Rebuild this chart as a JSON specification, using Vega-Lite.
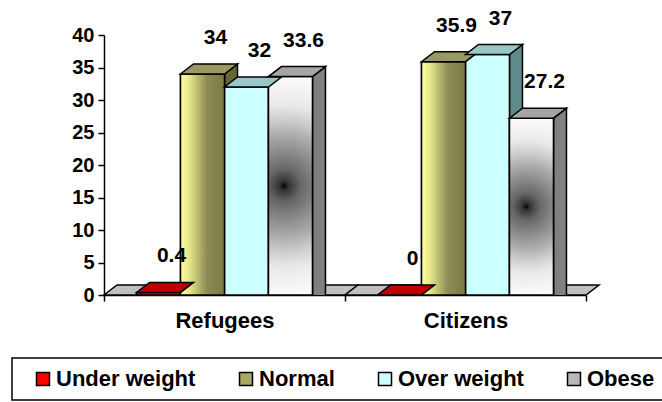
{
  "$schema": "https://vega.github.io/schema/vega-lite/v6.json",
  "autosize": {"type": "none"},
  "padding": {"left": 104, "top": 35, "right": 76, "bottom": 107},
  "width": 482,
  "height": 260,
  "background": "white",
  "config": {
    "font": "Liberation Sans",
    "view": {"stroke": null},
    "axis": {"grid": false, "domainColor": "black", "domainWidth": 1.5, "tickColor": "black", "tickWidth": 1.5, "tickSize": 6, "labelColor": "black", "labelFontWeight": "bold", "titleFontWeight": "bold"},
    "legend": {"strokeColor": "black", "strokeWidth": 1.5}
  },
  "datasets": {
    "groups": [{"group": "Refugees"}, {"group": "Citizens"}],
    "bmi": [
      {"group": "Refugees", "class": "Under weight", "value": 0.4},
      {"group": "Refugees", "class": "Normal", "value": 34},
      {"group": "Refugees", "class": "Over weight", "value": 32},
      {"group": "Refugees", "class": "Obese", "value": 33.6},
      {"group": "Citizens", "class": "Under weight", "value": 0},
      {"group": "Citizens", "class": "Normal", "value": 35.9},
      {"group": "Citizens", "class": "Over weight", "value": 37},
      {"group": "Citizens", "class": "Obese", "value": 27.2}
    ]
  },
  "layer": [
    {
      "data": {"name": "groups"},
      "mark": {"type": "point", "filled": true, "opacity": 1, "size": 4, "shape": "M-120.5,0 L120.5,0 L133.5,-10 L-107.5,-10 Z", "fill": "#C0C0C0", "stroke": "black", "strokeWidth": 1.5},
      "encoding": {
        "x": {
          "field": "group", "type": "nominal", "sort": ["Refugees", "Citizens"],
          "scale": {"paddingInner": 0, "paddingOuter": 0},
          "axis": {"title": null, "labelAngle": 0, "labelFontSize": 22, "labelPadding": 9, "tickBand": "extent"}
        },
        "y": {
          "datum": 0, "type": "quantitative",
          "scale": {"domain": [0, 40], "nice": false},
          "axis": {"title": null, "values": [0, 5, 10, 15, 20, 25, 30, 35, 40], "labelFontSize": 20, "labelPadding": 4}
        }
      }
    },
    {
      "data": {"name": "bmi"},
      "encoding": {
        "x": {
          "field": "group", "type": "nominal", "sort": ["Refugees", "Citizens"],
          "scale": {"paddingInner": 0, "paddingOuter": 0},
          "axis": {"title": null, "labelAngle": 0, "labelFontSize": 22, "labelPadding": 9, "tickBand": "extent"}
        },
        "y": {
          "field": "value", "type": "quantitative",
          "scale": {"domain": [0, 40], "nice": false},
          "axis": {"title": null, "values": [0, 5, 10, 15, 20, 25, 30, 35, 40], "labelFontSize": 20, "labelPadding": 4}
        },
        "xOffset": {"field": "class", "type": "nominal", "sort": ["Under weight", "Normal", "Over weight", "Obese"], "scale": {"paddingInner": 0, "paddingOuter": 0.74}}
      },
      "layer": [
        {
          "mark": {"type": "point", "filled": true, "opacity": 1, "size": 4, "clip": true, "shape": "M22,0 L35,-10 L35,300 L22,300 Z", "stroke": "black", "strokeWidth": 1.5},
          "encoding": {
            "color": {"field": "class", "type": "nominal", "sort": ["Under weight", "Normal", "Over weight", "Obese"], "scale": {"range": ["#800000", "#666633", "#5F8A8A", "#808080"]}, "legend": null}
          }
        },
        {
          "mark": {"type": "bar", "stroke": "black", "strokeWidth": 1.5},
          "encoding": {
            "color": {
              "field": "class", "type": "nominal", "sort": ["Under weight", "Normal", "Over weight", "Obese"],
              "scale": {"range": ["#FF0000", "#A8A860", "#CCFFFF", "#B8B8B8"]},
              "legend": {
                "title": null, "orient": "none", "legendX": -92, "legendY": 323, "direction": "horizontal", "columns": 4,
                "columnPadding": 29, "padding": 10, "symbolOffset": 10,
                "symbolType": "square", "symbolSize": 169, "symbolStrokeColor": "black", "symbolStrokeWidth": 1.5, "symbolOpacity": 1,
                "labelFontSize": 22, "labelFontWeight": "bold", "labelColor": "black", "labelOffset": 2, "labelLimit": 0
              }
            }
          }
        },
        {
          "transform": [{"filter": "datum.class === 'Normal'"}],
          "mark": {
            "type": "bar", "stroke": "black", "strokeWidth": 1.5,
            "fill": {"gradient": "linear", "x1": 0, "y1": 0, "x2": 1, "y2": 0, "stops": [
              {"offset": 0, "color": "#FFFF99"},
              {"offset": 0.2, "color": "#E6E68A"},
              {"offset": 0.6, "color": "#8C8C55"},
              {"offset": 1, "color": "#7A7A48"}
            ]}
          }
        },
        {
          "transform": [{"filter": "datum.class === 'Obese'"}],
          "mark": {
            "type": "bar", "stroke": "black", "strokeWidth": 1.5,
            "fill": {"gradient": "radial", "x1": 0.47, "y1": 0.5, "r1": 0, "x2": 0.47, "y2": 0.5, "r2": 0.5, "stops": [
              {"offset": 0, "color": "#000000"},
              {"offset": 0.04, "color": "#333333"},
              {"offset": 0.15, "color": "#666666"},
              {"offset": 0.3, "color": "#888888"},
              {"offset": 0.45, "color": "#A8A8A8"},
              {"offset": 0.6, "color": "#CCCCCC"},
              {"offset": 0.75, "color": "#EAEAEA"},
              {"offset": 1, "color": "#FAFAFA"}
            ]}
          }
        },
        {
          "mark": {"type": "point", "filled": true, "opacity": 1, "size": 4, "shape": "M-22,0 L22,0 L35,-10 L-9,-10 Z", "stroke": "black", "strokeWidth": 1.5},
          "encoding": {
            "color": {"field": "class", "type": "nominal", "sort": ["Under weight", "Normal", "Over weight", "Obese"], "scale": {"range": ["#C00000", "#999966", "#99C6C6", "#A6A6A6"]}, "legend": null}
          }
        },
        {
          "mark": {"type": "text", "dx": 13, "dy": -30, "baseline": "alphabetic", "align": "center", "fontSize": 21, "fontWeight": "bold", "color": "black"},
          "encoding": {
            "text": {"field": "value", "type": "quantitative", "format": ""}
          }
        }
      ],
      "resolve": {"scale": {"color": "independent"}}
    }
  ]
}
